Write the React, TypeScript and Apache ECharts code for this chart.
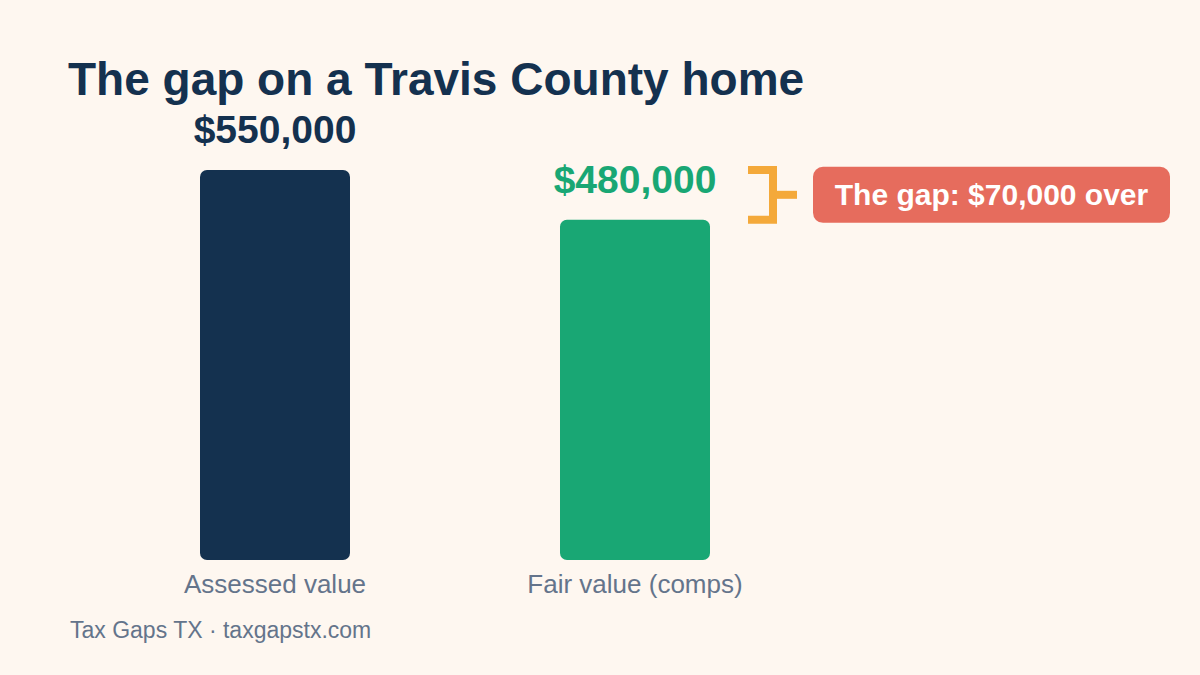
import React, { useEffect, useRef } from "react";
import * as echarts from "echarts";

const categories = ["Assessed value", "Fair value (comps)"];
const values = [550000, 480000];
const barColors = ["#14314F", "#19A774"];
const titleText = "The gap on a Travis County home";
const footerText = "Tax Gaps TX · taxgapstx.com";
const gapText = "The gap: $70,000 over";

const FONT = "'Liberation Sans', Arial, Helvetica, sans-serif";

function fmt(v: number) {
  return "$" + v.toLocaleString("en-US");
}

export default function App() {
  const ref = useRef<HTMLDivElement>(null);
  useEffect(() => {
    if (!ref.current) return;
    const chart = echarts.init(ref.current, undefined, { renderer: "svg" });
    chart.setOption({
      animation: false,
      backgroundColor: "#FEF7F0",
      grid: { left: 95, right: 385, top: 170, bottom: 115 },
      xAxis: {
        type: "category",
        data: categories,
        axisLine: { show: false },
        axisTick: { show: false },
        axisLabel: { color: "#64748B", fontSize: 26, fontFamily: FONT, margin: 11 },
      },
      yAxis: { type: "value", min: 0, max: 550000, show: false, splitLine: { show: false } },
      series: [
        {
          type: "bar",
          barWidth: 150,
          data: values.map((v, i) => ({
            value: v,
            itemStyle: { color: barColors[i], borderRadius: 7 },
            label: { color: barColors[i] },
          })),
          label: {
            show: true,
            position: "top",
            distance: 21,
            fontSize: 39,
            fontWeight: "bold",
            fontFamily: FONT,
            formatter: (p: any) => fmt(p.value),
          },
        },
      ],
    });
    const topA = chart.convertToPixel({ gridIndex: 0 }, [categories[1], values[0]]) as number[];
    const topB = chart.convertToPixel({ gridIndex: 0 }, [categories[1], values[1]]) as number[];
    const cx = topB[0];
    const y1 = topA[1];
    const y2 = topB[1];
    const ym = (y1 + y2) / 2;
    const bx0 = cx + 113;
    const bx1 = cx + 138;
    const stemEnd = cx + 162;
    chart.setOption({
      graphic: [
        {
          type: "text",
          style: {
            text: titleText,
            x: 68,
            y: 79,
            fontSize: 46,
            fontWeight: "bold",
            fontFamily: FONT,
            fill: "#14314F",
            verticalAlign: "middle",
          },
        },
        {
          type: "text",
          style: {
            text: footerText,
            x: 70,
            y: 630,
            fontSize: 23,
            fontFamily: FONT,
            fill: "#64748B",
            verticalAlign: "middle",
          },
        },
        {
          type: "polyline",
          shape: { points: [[bx0, y1], [bx1, y1], [bx1, y2], [bx0, y2]] },
          style: { stroke: "#F4A93A", lineWidth: 8, fill: "none", lineJoin: "miter" },
        },
        {
          type: "line",
          shape: { x1: bx1, y1: ym, x2: stemEnd, y2: ym },
          style: { stroke: "#F4A93A", lineWidth: 8 },
        },
        {
          type: "rect",
          shape: { x: 813, y: ym - 28, width: 357, height: 56, r: 10 },
          style: { fill: "#E66C5D" },
        },
        {
          type: "text",
          style: {
            text: gapText,
            x: 991.5,
            y: ym,
            fontSize: 30,
            fontWeight: "bold",
            fontFamily: FONT,
            fill: "#FFFFFF",
            align: "center",
            verticalAlign: "middle",
          },
        },
      ],
    });
    return () => chart.dispose();
  }, []);
  return <div ref={ref} style={{ width: 1200, height: 675, position: "fixed", left: 0, top: 0 }} />;
}
